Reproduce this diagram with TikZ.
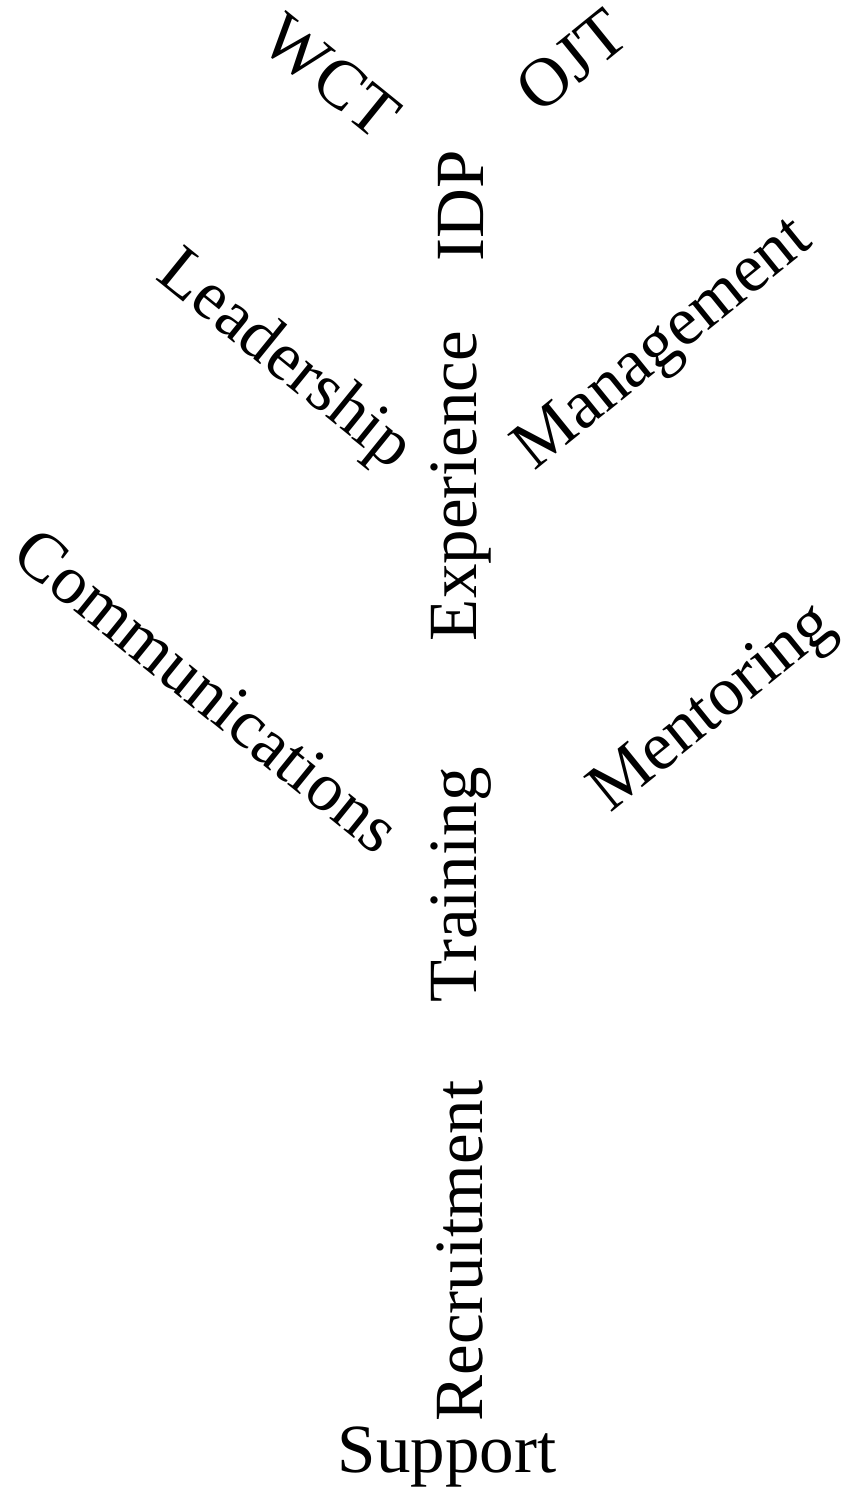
\documentclass[tikz,border=0pt]{standalone}
\usepackage{fontspec}
\setmainfont{Liberation Serif}
\usetikzlibrary{positioning}

\tikzset{
  word/.style={inner sep=0pt,font=\fontsize{34.5}{40}\selectfont},
  upword/.style={word,rotate=90},
  leftword/.style={word,rotate=-39},
  rightword/.style={word,rotate=39}
}

\begin{document}
\begin{tikzpicture}[x=0.5pt,y=-0.5pt]
\useasboundingbox (0,0) rectangle (844,1498);
% trunk
\node[word] (support) at (447,1457) {Support};
\node[upword] (recruit) at (460,1251) {Recruitment};
\node[upword] (training) at (461,885) {Training};
\node[upword] (experience) at (461,486) {Experience};
\node[upword] (idp) at (461,206) {IDP};
% branches
\node[leftword] (comm) at (207,690) {Communications};
\node[rightword] (mentor) at (714,710) {Mentoring};
\node[leftword] (lead) at (284,362) {Leadership};
\node[rightword] (manage) at (665,346) {Management};
\node[leftword] (wct) at (331,76) {WCT};
\node[rightword] (ojt) at (572,61) {OJT};
\end{tikzpicture}
\end{document}
